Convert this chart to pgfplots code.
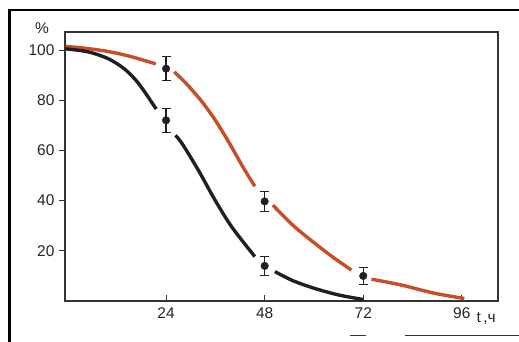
\documentclass[border=0pt]{standalone}
\usepackage{fontspec}
\setmainfont{Liberation Sans}
\usepackage{pgfplots}
\pgfplotsset{compat=1.18}
\definecolor{redc}{RGB}{198,78,42}
\definecolor{blkc}{RGB}{35,30,35}
\definecolor{axc}{RGB}{50,50,50}
\begin{document}
\begin{tikzpicture}[x=1pt,y=1pt]
\path[use as bounding box] (0,0) rectangle (519,342);
\draw[line width=3pt, black] (9,0) -- (9,332);
\draw[line width=2pt, black] (8,332) -- (519,332);
\draw[line width=1pt, axc] (405,6) -- (519,6);
\draw[line width=1pt, axc] (350,6) -- (366,6);
\begin{axis}[
  at={(65pt,41pt)}, anchor=south west,
  scale only axis, width=433pt, height=269pt,
  xmin=-0.6, xmax=104.8, ymin=0, ymax=107.2,
  axis line style={axc, line width=1.2pt},
  xtick={24,48,72,96}, ytick={20,40,60,80,100},
  ytick pos=left, xtick pos=bottom,
  major tick length=6pt,
  x tick style={axc, line width=1pt},
  y tick style={axc, line width=1pt},
  xtick align=inside, ytick align=outside,
  tick label style={font=\fontsize{15.5}{15.5}\selectfont, text=black!85},
  /pgf/number format/assume math mode=true,
  xticklabel style={yshift=-3pt},
  yticklabel style={xshift=-1pt},
  clip=false,
]
% red curve segments
\addplot[redc, line width=3.4pt, smooth] coordinates {(-0.5,101.5) (5,100.6) (10,99.4) (15,97.6) (21.5,94.5)};
\addplot[redc, line width=3.4pt, smooth] coordinates {(26,91.3) (29,86.5) (32.7,79.5) (36,72) (39.2,63.5) (42.5,54) (45.6,45.7)};
\addplot[redc, line width=3.4pt, smooth] coordinates {(50,38.2) (55,30) (60.2,23) (65,17) (69.1,12.4)};
\addplot[redc, line width=3.4pt, smooth] coordinates {(74,8.7) (81.2,6.4) (89.3,3.1) (96.6,1)};
% black curve segments
\addplot[blkc, line width=3.4pt, smooth] coordinates {(-0.5,100.5) (5,99.3) (10,96.5) (14,92.3) (17.4,86.5) (21.6,76.5)};
\addplot[blkc, line width=3.4pt, smooth] coordinates {(26.3,66) (28,62.5) (31.9,52) (36,40) (40,29.5) (45.6,17.7)};
\addplot[blkc, line width=3.4pt, smooth] coordinates {(50.5,11.7) (55,8) (60.2,5) (66,2.4) (72,0.6)};
% data points with error bars
\addplot[only marks, mark=*, mark size=3.8pt, mark options={fill=blkc, draw=blkc},
  error bars/.cd, y dir=both, y explicit,
  error bar style={blkc, line width=1.2pt},
  error mark options={rotate=90, mark size=4.5pt, blkc, line width=1.2pt}]
  coordinates {(24,92.6) +- (0,4.8) (48,39.7) +- (0,4) (72,10) +- (0,3.5)};
\addplot[only marks, mark=*, mark size=3.8pt, mark options={fill=blkc, draw=blkc},
  error bars/.cd, y dir=both, y explicit,
  error bar style={blkc, line width=1.2pt},
  error mark options={rotate=90, mark size=4.5pt, blkc, line width=1.2pt}]
  coordinates {(24,72) +- (0,4.7) (48,14) +- (0,3.8)};
\end{axis}
\node[font=\fontsize{15.5}{15.5}\selectfont, text=black!85] at (42,314) {\%};
\node[font=\fontsize{15.5}{15.5}\selectfont, text=black!85, anchor=west] at (473,24) {t\,,ч};
\end{tikzpicture}
\end{document}
